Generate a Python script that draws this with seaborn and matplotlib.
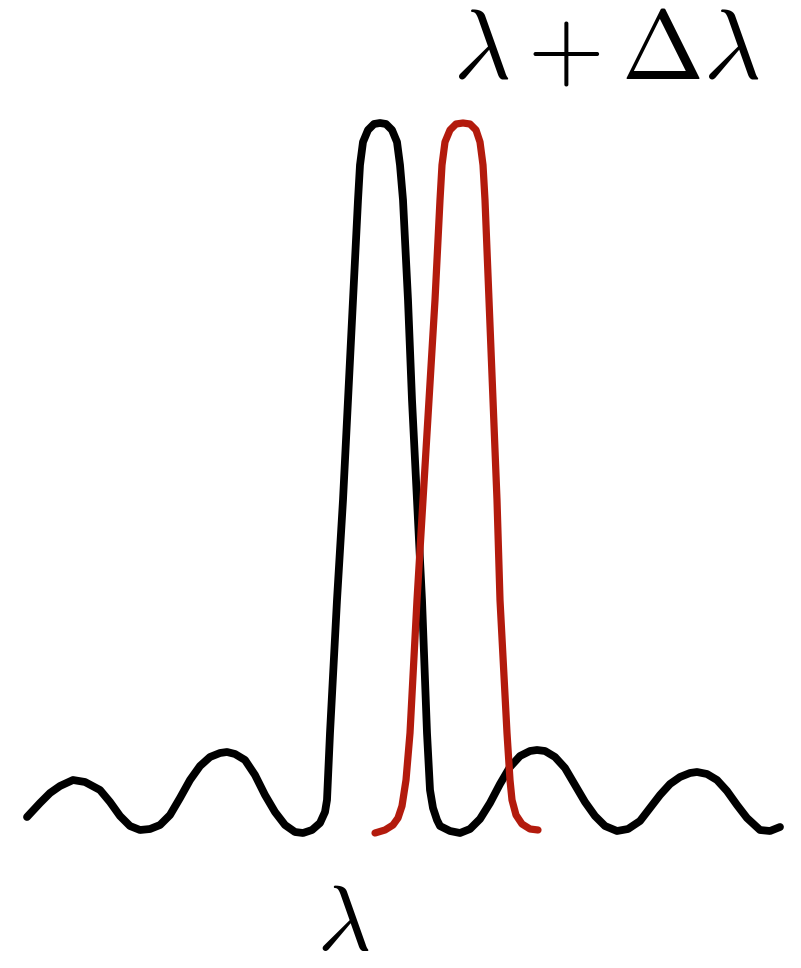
import matplotlib
matplotlib.use("Agg")
import matplotlib.pyplot as plt
import seaborn as sns
import pandas as pd

sns.set_theme(style="white")
plt.rcParams["mathtext.fontset"] = "cm"

# Detuning (arbitrary units, 0 = line centre at lambda) and intensity (arbitrary units)
black_x = [-353, -340, -330, -320, -307, -295, -280, -270, -260, -250, -240, -230,
           -220, -210, -200, -190, -180, -170, -160, -153, -145, -135, -125, -115,
           -105, -95, -85, -77, -68, -60, -55, -53, -50, -43, -37, -32, -27, -22,
           -20, -17, -12, -6, 0, 6, 12, 17, 20, 23, 28, 32, 37, 42, 47, 50, 53, 57,
           60, 70, 80, 90, 100, 110, 120, 130, 140, 150, 157, 165, 175, 185, 195,
           205, 215, 225, 237, 248, 260, 270, 280, 290, 300, 310, 317, 327, 337,
           347, 357, 367, 380, 390, 400]
black_y = [16, 30, 40, 47, 53, 51, 43, 31, 17, 7, 3, 4, 8, 18, 35, 53, 67, 76,
           80, 81, 79, 73, 58, 38, 21, 8, 1, 0, 3, 10, 21, 33, 100, 233, 333, 433,
           533, 633, 668, 691, 703, 709, 710, 709, 703, 691, 668, 633, 533, 433,
           333, 233, 100, 43, 25, 13, 7, 2, 0, 4, 14, 30, 49, 66, 77, 82, 83, 82,
           76, 65, 48, 31, 17, 7, 2, 4, 12, 25, 38, 49, 56, 60, 61, 59, 53, 42, 28,
           15, 3, 2, 6]
red_x = [-5, 5, 13, 18, 22, 26, 30, 37, 43, 49, 55, 60, 62, 65, 70, 76, 83, 90,
         96, 100, 103, 105, 109, 113, 117, 120, 127, 130, 132, 136, 142, 150, 158]
red_y = [0, 3, 8, 15, 27, 53, 100, 233, 333, 433, 533, 633, 668, 691, 703, 709,
         710, 709, 703, 691, 668, 633, 533, 433, 333, 233, 100, 53, 33, 18, 9, 4, 3]

top_label = r"$\lambda + \Delta\lambda$"
bottom_label = r"$\lambda$"

black = pd.DataFrame({"x": black_x, "y": black_y})
red = pd.DataFrame({"x": red_x, "y": red_y})

fig = plt.figure(figsize=(8.01, 9.68), dpi=100)
ax = fig.add_axes([0, 0, 1, 1])

sns.lineplot(data=black, x="x", y="y", sort=False, color="black", lw=5.6,
             ax=ax, solid_joinstyle="round", solid_capstyle="round", zorder=2)
sns.lineplot(data=red, x="x", y="y", sort=False, color="#b31b0d", lw=5.2,
             ax=ax, solid_joinstyle="round", solid_capstyle="round", zorder=3)

ax.set_xlim(-380, 421)
ax.set_ylim(833 - 968, 833)
ax.axis("off")

ax.text(0.757, 1 - 79 / 968, top_label, transform=ax.transAxes,
        ha="center", va="baseline", fontsize=71, color="black")
ax.text(0.429, 1 - 950 / 968, bottom_label, transform=ax.transAxes,
        ha="center", va="baseline", fontsize=66, color="black")

fig.savefig("out.png", dpi=100, facecolor="white")
